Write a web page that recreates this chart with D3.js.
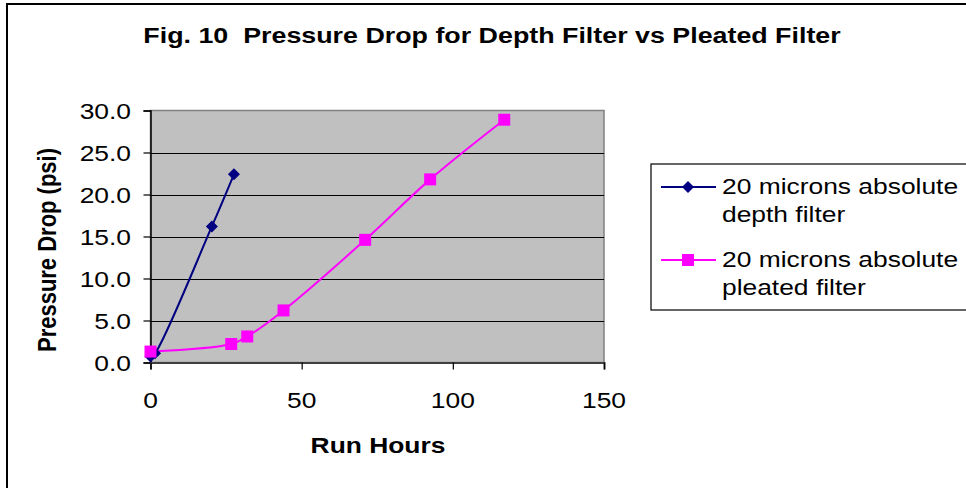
<!DOCTYPE html>
<html><head><meta charset="utf-8">
<script src="https://cdn.jsdelivr.net/npm/d3@7"></script>
<style>
html,body{margin:0;padding:0;background:#fff;}
svg{display:block;font-family:"Liberation Sans",Arial,sans-serif;}
text{white-space:pre;}
</style></head>
<body>
<svg id="chart" width="966" height="488"></svg>
<script>
// ---- data ----
const depthHours   = [0, 1.5, 20.3, 27.6];
const depthPsi     = [0.7, 1.1, 16.2, 22.4];
const pleatedHours = [0, 26.7, 32, 44, 71, 92.5, 117];
const pleatedPsi   = [1.3, 2.2, 3.1, 6.2, 14.6, 21.8, 28.9];
const xTicks = [0, 50, 100, 150];
const yTicks = [0, 5, 10, 15, 20, 25, 30];
const seriesNames = ["20 microns absolute|depth filter", "20 microns absolute|pleated filter"];
const titleText = "Fig. 10  Pressure Drop for Depth Filter vs Pleated Filter";
const xTitle = "Run Hours";
const yTitle = "Pressure Drop (psi)";

const SX = 1.2; // horizontal text stretch seen in reference
const svg = d3.select("#chart");

// outer chart border
svg.append("rect").attr("x",7).attr("y",4).attr("width",990).attr("height",520)
  .attr("fill","#fff").attr("stroke","#000").attr("stroke-width",2);

const x = d3.scaleLinear().domain([0,150]).range([150.5,604]);
const y = d3.scaleLinear().domain([0,30]).range([362.5,110.5]);

// plot area
svg.append("rect").attr("x",x(0)).attr("y",y(30)).attr("width",x(150)-x(0)).attr("height",y(0)-y(30))
  .attr("fill","#C0C0C0").attr("stroke","#808080").attr("stroke-width",1.5);

// gridlines
svg.append("g").selectAll("line").data(yTicks.filter(d=>d>0 && d<30)).join("line")
  .attr("x1",x(0)).attr("x2",x(150)).attr("y1",d=>Math.round(y(d))+0.5).attr("y2",d=>Math.round(y(d))+0.5)
  .attr("stroke","#000").attr("stroke-width",1.2);

// axes
const yAxis = svg.append("g").attr("transform",`translate(${x(0)},0)`)
  .call(d3.axisLeft(y).tickValues(yTicks).tickSize(7).tickFormat(()=>""));
yAxis.select(".domain").attr("stroke","#000").attr("stroke-width",1.5);
yAxis.selectAll(".tick line").attr("stroke","#000").attr("stroke-width",1.2);

const xAxis = svg.append("g").attr("transform",`translate(0,${y(0)})`)
  .call(d3.axisBottom(x).tickValues(xTicks).tickSize(7).tickFormat(()=>""));
xAxis.select(".domain").attr("stroke","#404040").attr("stroke-width",2);
xAxis.selectAll(".tick line").attr("stroke","#000").attr("stroke-width",1.2);

// tick labels (stretched horizontally)
svg.append("g").selectAll("text").data(yTicks).join("text")
  .attr("transform",d=>`translate(131,${y(d)+8}) scale(${SX},1)`)
  .attr("text-anchor","end").attr("font-size",22).attr("fill","#000")
  .text(d=>d.toFixed(1));
svg.append("g").selectAll("text").data(xTicks).join("text")
  .attr("transform",d=>`translate(${x(d)},408) scale(${SX},1)`)
  .attr("text-anchor","middle").attr("font-size",22).attr("fill","#000")
  .text(d=>d);

// titles
svg.append("text").attr("transform",`translate(492,43) scale(1.22,1)`)
  .attr("text-anchor","middle").attr("font-size",22).attr("font-weight","bold").text(titleText);
svg.append("text").attr("transform",`translate(378,453) scale(${SX},1)`)
  .attr("text-anchor","middle").attr("font-size",22).attr("font-weight","bold").text(xTitle);
svg.append("text").attr("transform",`translate(56,250) scale(${SX},1) rotate(-90)`)
  .attr("text-anchor","middle").attr("font-size",22).attr("font-weight","bold").text(yTitle);

// series
const series = [
  {hours: depthHours, psi: depthPsi, color:"#000080", sym: d3.symbolSquare, size: 72, rot: 45},
  {hours: pleatedHours, psi: pleatedPsi, color:"#FF00FF", sym: d3.symbolSquare, size: 144, rot: 0}
];
const line = d3.line().x(d=>x(d[0])).y(d=>y(d[1])).curve(d3.curveCatmullRom.alpha(0.5));
series.forEach(s=>{
  const pts = s.hours.map((h,i)=>[h, s.psi[i]]);
  svg.append("path").datum(pts).attr("d",line).attr("fill","none")
    .attr("stroke",s.color).attr("stroke-width",2);
});
series.forEach(s=>{
  const pts = s.hours.map((h,i)=>[h, s.psi[i]]);
  svg.append("g").selectAll("path").data(pts).join("path")
    .attr("transform",d=>`translate(${x(d[0])},${y(d[1])}) rotate(${s.rot})`)
    .attr("d",d3.symbol().type(s.sym).size(s.size)).attr("fill",s.color);
});

// legend
const lg = svg.append("g");
lg.append("rect").attr("x",651).attr("y",164).attr("width",340).attr("height",146)
  .attr("fill","#fff").attr("stroke","#000").attr("stroke-width",1.2);
const legY = [187, 260];
series.forEach((s,i)=>{
  lg.append("line").attr("x1",661).attr("x2",716).attr("y1",legY[i]).attr("y2",legY[i])
    .attr("stroke",s.color).attr("stroke-width",2);
  lg.append("path").attr("transform",`translate(688,${legY[i]}) rotate(${s.rot})`)
    .attr("d",d3.symbol().type(s.sym).size(s.size)).attr("fill",s.color);
  const parts = seriesNames[i].split("|");
  parts.forEach((p,j)=>{
    lg.append("text").attr("transform",`translate(722,${legY[i]+7+j*28}) scale(${SX},1)`)
      .attr("font-size",22).attr("fill","#000").text(p);
  });
});
</script>
</body></html>
